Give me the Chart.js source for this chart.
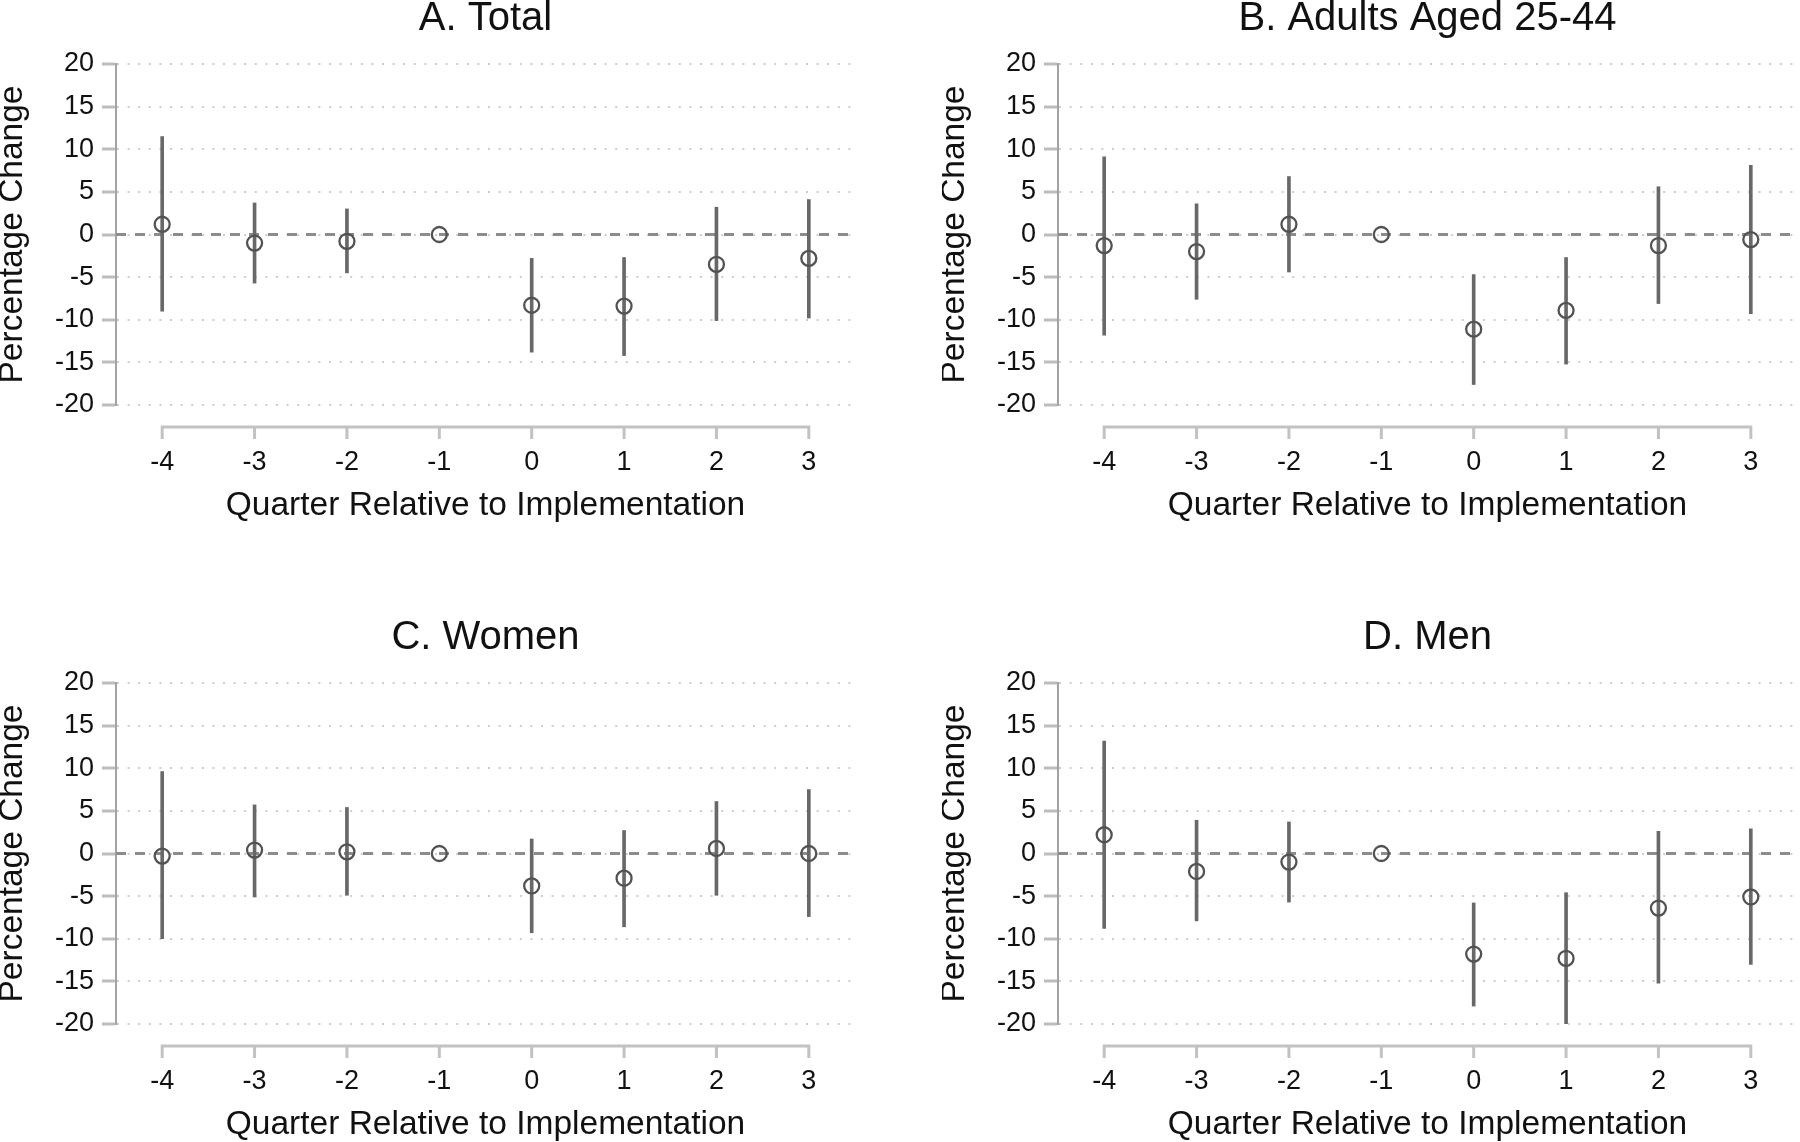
<!DOCTYPE html>
<html>
<head>
<title>Event study panels</title>
<script src="https://cdn.jsdelivr.net/npm/chart.js@4.4.1/dist/chart.umd.min.js"></script>
<style>
    body{ margin:0; background:#fff; overflow:hidden; width:1800px; height:1142px; position:relative; }
    .panel{ position:absolute; width:900px; height:560px; }
</style>
</head>
<body>
<div class="panel" style="left:0px; top:0px;"><canvas id="chartA" width="900" height="560"></canvas></div>
<div class="panel" style="left:942px; top:0px;"><canvas id="chartB" width="900" height="560"></canvas></div>
<div class="panel" style="left:0px; top:619px;"><canvas id="chartC" width="900" height="560"></canvas></div>
<div class="panel" style="left:942px; top:619px;"><canvas id="chartD" width="900" height="560"></canvas></div>

<script>
// quarters relative to implementation
var quarters = [-4, -3, -2, -1, 0, 1, 2, 3];
var yTicks = [-20, -15, -10, -5, 0, 5, 10, 15, 20];
var xMin = -4.5, xMax = 3.5;

// A. Total
var totalEst = [1.2, -1.0, -0.8, 0, -8.3, -8.4, -3.5, -2.8];
var totalLo  = [-9.0, -5.7, -4.5, null, -13.8, -14.2, -10.1, -9.8];
var totalHi  = [11.5, 3.7, 3.0, null, -2.8, -2.7, 3.2, 4.1];

// B. Adults Aged 25-44
var adultsEst = [-1.3, -2.0, 1.2, 0, -11.1, -8.9, -1.3, -0.6];
var adultsLo  = [-11.8, -7.6, -4.4, null, -17.6, -15.2, -8.1, -9.3];
var adultsHi  = [9.1, 3.6, 6.8, null, -4.7, -2.7, 5.6, 8.1];

// C. Women
var womenEst = [-0.3, 0.4, 0.2, 0, -3.8, -2.9, 0.6, 0.0];
var womenLo  = [-10.0, -5.1, -4.9, null, -9.3, -8.6, -4.9, -7.4];
var womenHi  = [9.6, 5.7, 5.4, null, 1.7, 2.7, 6.1, 7.5];

// D. Men
var menEst = [2.2, -2.1, -1.0, 0, -11.8, -12.3, -6.4, -5.1];
var menLo  = [-8.8, -7.9, -5.7, null, -17.9, -20.1, -15.2, -13.0];
var menHi  = [13.2, 3.9, 3.7, null, -5.8, -4.6, 2.6, 2.9];

Chart.defaults.font.family = "'Liberation Sans', Arial, sans-serif";
Chart.defaults.color = '#111111';

// stata style x axis: separate line sitting a bit below the plot region
var offsetAxis = {
    id: 'offsetAxis',
    afterDraw: function(chart) {
        var sx = chart.scales.x;
        var ctx = chart.ctx;
        var y0 = chart.chartArea.bottom + 22;
        ctx.save();
        ctx.strokeStyle = '#c2c2c2';
        ctx.lineWidth = 3;
        ctx.beginPath();
        ctx.moveTo(sx.getPixelForValue(quarters[0]) - 1.5, y0);
        ctx.lineTo(sx.getPixelForValue(quarters[quarters.length - 1]) + 1.5, y0);
        quarters.forEach(function(q) {
            var px = sx.getPixelForValue(q);
            ctx.moveTo(px, y0);
            ctx.lineTo(px, y0 + 12);
        });
        ctx.stroke();
        ctx.restore();
    }
};

function makePanel(id, title, est, lo, hi) {
    var points = quarters.map(function(q, i) { return {x: q, y: est[i]}; });
    var bars = [];
    quarters.forEach(function(q, i) {
        if (lo[i] !== null) bars.push({x: q, y: [lo[i], hi[i]]});
    });

    var ctx = document.getElementById(id).getContext('2d');
    return new Chart(ctx, {
        type: 'scatter',
        data: {
            datasets: [{
                type: 'line',
                data: [{x: xMin, y: 0}, {x: xMax, y: 0}],
                borderColor: '#8c8c8c',
                borderWidth: 3,
                borderDash: [10, 9],
                pointRadius: 0,
                order: 3
            }, {
                type: 'bar',
                data: bars,
                backgroundColor: '#686868',
                borderWidth: 0,
                barThickness: 3,
                grouped: false,
                order: 2
            }, {
                type: 'scatter',
                data: points,
                pointStyle: 'circle',
                pointRadius: 7.5,
                borderWidth: 2.3,
                borderColor: '#525252',
                backgroundColor: 'rgba(0,0,0,0)',
                order: 1
            }]
        },
        options: {
            responsive: false,
            animation: false,
            events: [],
            layout: {padding: {top: 0, left: 0, right: 45, bottom: 0}},
            plugins: {
                legend: {display: false},
                tooltip: {enabled: false},
                title: {
                    display: true,
                    text: title,
                    fullSize: false,
                    color: '#111111',
                    font: {size: 40, weight: 'normal'},
                    padding: {top: -5.5, bottom: 21.5}
                }
            },
            scales: {
                x: {
                    type: 'linear',
                    offset: false,
                    min: xMin,
                    max: xMax,
                    afterBuildTicks: function(scale) {
                        scale.ticks = quarters.map(function(q) { return {value: q}; });
                    },
                    afterFit: function(scale) { scale.height = 155; },
                    grid: {display: false, drawTicks: false, offset: false},
                    border: {display: false},
                    ticks: {font: {size: 27}, padding: 41.8, maxRotation: 0, autoSkip: false},
                    title: {
                        display: true,
                        text: 'Quarter Relative to Implementation',
                        font: {size: 33.5},
                        padding: {top: 0, bottom: 33.8}
                    }
                },
                y: {
                    min: -20,
                    max: 20,
                    afterBuildTicks: function(scale) {
                        scale.ticks = yTicks.map(function(v) { return {value: v}; });
                    },
                    afterFit: function(scale) { scale.width = 116; },
                    grid: {
                        color: '#cdcdcd',
                        lineWidth: 2,
                        tickLength: 14,
                        tickColor: '#bdbdbd',
                        tickWidth: 3
                    },
                    border: {display: true, color: '#a3a3a3', width: 2, dash: [2, 8.6]},
                    ticks: {font: {size: 27}, padding: 8},
                    title: {
                        display: true,
                        text: 'Percentage Change',
                        font: {size: 33.5},
                        padding: {top: -7, bottom: 0}
                    }
                }
            }
        },
        plugins: [offsetAxis]
    });
}

makePanel('chartA', 'A. Total', totalEst, totalLo, totalHi);
makePanel('chartB', 'B. Adults Aged 25-44', adultsEst, adultsLo, adultsHi);
makePanel('chartC', 'C. Women', womenEst, womenLo, womenHi);
makePanel('chartD', 'D. Men', menEst, menLo, menHi);
</script>
</body>
</html>
